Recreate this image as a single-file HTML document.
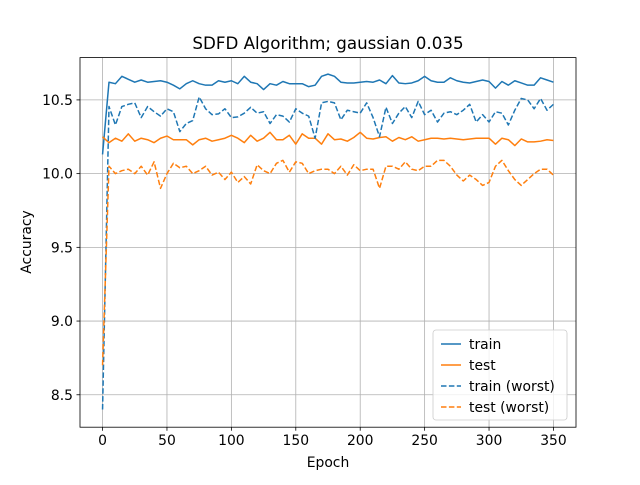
<!DOCTYPE html>
<html><head><meta charset="utf-8"><style>
body{margin:0;background:#fff}
svg{font-family:"DejaVu Sans","Liberation Sans",sans-serif}
</style></head><body>
<svg id="chart" width="640" height="480" viewBox="0 0 640 480">
<rect width="640" height="480" fill="#fff"/>
<text x="328" y="49" text-anchor="middle" font-size="16.7">SDFD Algorithm; gaussian 0.035</text>
<g id="grid"></g><g id="series"></g><g id="axes"></g>
<text x="328" y="467" text-anchor="middle" font-size="13.9">Epoch</text>
<text transform="translate(31,242) rotate(-90)" text-anchor="middle" font-size="13.9">Accuracy</text>
<g id="legend"></g>
</svg>
<script>
const epochStep = 5;
const train = [10.13,10.62,10.61,10.66,10.64,10.62,10.635,10.62,10.625,10.63,10.62,10.6,10.575,10.61,10.63,10.61,10.6,10.6,10.63,10.62,10.63,10.61,10.66,10.62,10.61,10.57,10.61,10.6,10.625,10.61,10.61,10.61,10.59,10.6,10.66,10.675,10.66,10.62,10.615,10.615,10.62,10.625,10.62,10.635,10.61,10.665,10.615,10.61,10.615,10.63,10.66,10.63,10.62,10.62,10.65,10.63,10.62,10.615,10.625,10.635,10.625,10.58,10.625,10.6,10.63,10.615,10.6,10.6,10.65,10.635,10.62];
const test = [10.25,10.21,10.24,10.22,10.27,10.22,10.24,10.23,10.21,10.24,10.255,10.23,10.23,10.23,10.195,10.23,10.24,10.22,10.23,10.24,10.26,10.24,10.21,10.26,10.22,10.24,10.28,10.23,10.23,10.26,10.2,10.27,10.24,10.24,10.2,10.27,10.23,10.235,10.22,10.245,10.28,10.24,10.235,10.245,10.25,10.22,10.245,10.23,10.25,10.22,10.23,10.24,10.24,10.235,10.24,10.235,10.23,10.235,10.24,10.24,10.24,10.2,10.24,10.23,10.19,10.235,10.215,10.215,10.22,10.23,10.225];
const trainWorst = [8.4,10.455,10.33,10.455,10.47,10.48,10.38,10.455,10.42,10.39,10.44,10.42,10.285,10.34,10.36,10.52,10.44,10.4,10.405,10.44,10.38,10.385,10.41,10.45,10.41,10.42,10.34,10.4,10.39,10.35,10.44,10.41,10.39,10.24,10.48,10.49,10.48,10.365,10.43,10.42,10.41,10.48,10.38,10.25,10.45,10.34,10.41,10.455,10.38,10.49,10.4,10.43,10.35,10.41,10.42,10.4,10.43,10.47,10.35,10.4,10.35,10.42,10.41,10.33,10.43,10.51,10.5,10.44,10.51,10.43,10.47];
const testWorst = [8.7,10.05,10.0,10.02,10.03,10.0,10.05,9.99,10.08,9.9,10.0,10.07,10.04,10.05,10.0,10.02,10.05,9.99,10.01,9.96,10.01,9.94,9.98,9.93,10.06,10.02,10.0,10.07,10.09,10.01,10.08,10.07,10.0,10.02,10.03,10.03,10.0,10.05,9.99,10.06,10.02,10.03,10.03,9.9,10.05,10.05,10.03,10.08,10.03,10.02,10.05,10.05,10.09,10.09,10.05,9.99,9.95,9.99,9.96,9.92,9.94,10.05,10.09,10.02,9.96,9.92,9.96,10.0,10.03,10.03,9.99];
const xTicks = [0,50,100,150,200,250,300,350];
const yTicks = [8.5,9.0,9.5,10.0,10.5];
const seriesNames = ["train","test","train (worst)","test (worst)"];

const L=80,R=576,T=57.6,B=427.2;
const xMin=-17.5,xMax=367.5,yMin=8.28,yMax=10.787;
const sx=v=>L+(v-xMin)/(xMax-xMin)*(R-L);
const sy=v=>B-(v-yMin)/(yMax-yMin)*(B-T);
const NS="http://www.w3.org/2000/svg";
function mk(tag,attrs,parent){const e=document.createElementNS(NS,tag);for(const k in attrs)e.setAttribute(k,attrs[k]);parent.appendChild(e);return e;}
const grid=document.getElementById('grid'),axes=document.getElementById('axes'),ser=document.getElementById('series'),leg=document.getElementById('legend');
xTicks.forEach(t=>{
  const g=mk('line',{x1:sx(t),x2:sx(t),y1:T,y2:B,stroke:'#b0b0b0','stroke-width':0.8},grid);
  
  
  mk('line',{x1:sx(t),x2:sx(t),y1:B,y2:B+3.5,stroke:'#000','stroke-width':0.8},axes);
  const tx=mk('text',{x:sx(t),y:B+18,'text-anchor':'middle','font-size':13.9},axes);
  tx.textContent=t;
  
  
});
yTicks.forEach(t=>{
  const g=mk('line',{x1:L,x2:R,y1:sy(t),y2:sy(t),stroke:'#b0b0b0','stroke-width':0.8},grid);
  
  
  mk('line',{x1:L-3.5,x2:L,y1:sy(t),y2:sy(t),stroke:'#000','stroke-width':0.8},axes);
  const tx=mk('text',{x:L-7,y:sy(t)+5,'text-anchor':'end','font-size':13.9},axes);
  tx.textContent=t.toFixed(1);
  
  
});
const frame=mk('rect',{x:L,y:T,width:R-L,height:B-T,fill:'none',stroke:'#000','stroke-width':0.8},axes);


const styles=[['#1f77b4',''],['#ff7f0e',''],['#1f77b4','5.5,2.4'],['#ff7f0e','5.5,2.4']];
const names=['train-line','test-line','train-worst-line','test-worst-line'];
[train,test,trainWorst,testWorst].forEach((arr,i)=>{
  const pts=arr.map((v,j)=>sx(j*epochStep).toFixed(2)+','+sy(v).toFixed(2)).join(' ');
  const p=mk('polyline',{points:pts,fill:'none',stroke:styles[i][0],'stroke-width':1.5,'stroke-dasharray':styles[i][1]||'none','stroke-linejoin':'round'},ser);
  
  
});
const box=mk('rect',{x:433,y:330,width:134,height:90,rx:3,fill:'#fff','fill-opacity':0.8,stroke:'#ccc','stroke-width':0.8},leg);


seriesNames.forEach((n,i)=>{
  const y=344+i*21;
  const ln=mk('line',{x1:441,x2:461,y1:y,y2:y,stroke:styles[i][0],'stroke-width':1.5,'stroke-dasharray':styles[i][1]||'none'},leg);
  
  
  const tx=mk('text',{x:469,y:y+5,'font-size':13.9},leg);
  tx.textContent=n;
  
  
});
</script>
</body></html>
